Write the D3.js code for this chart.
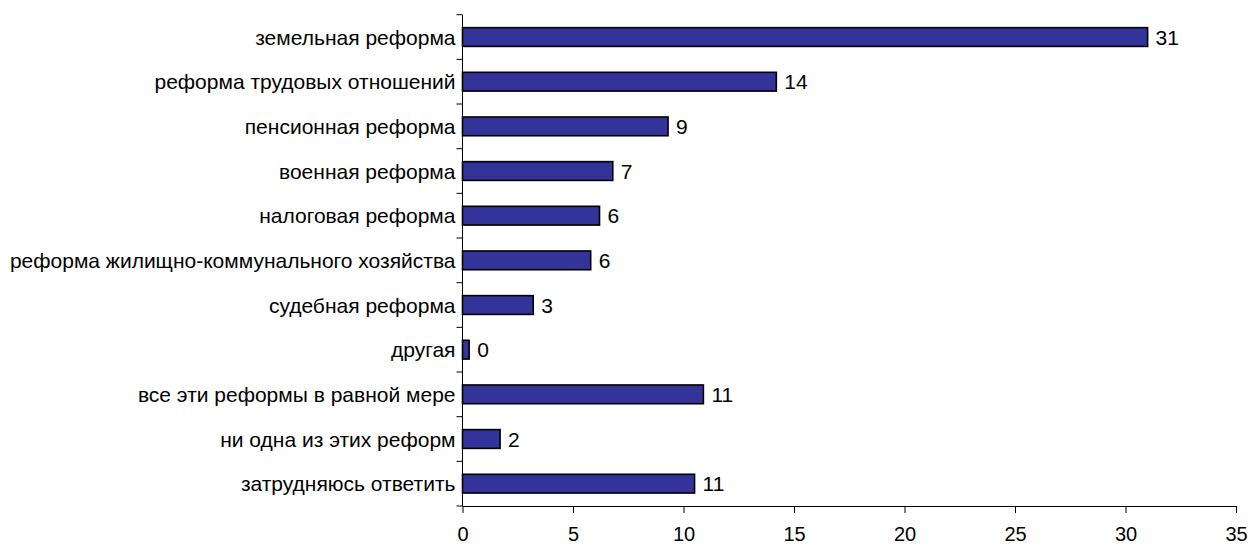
<!DOCTYPE html>
<html><head><meta charset="utf-8">
<script src="https://cdn.jsdelivr.net/npm/d3@7"></script>
<style>body{margin:0;background:#fff}svg{display:block}text{font-family:"Liberation Sans",Arial,sans-serif;fill:#000}</style>
</head><body><svg id="c" width="1250" height="545"></svg>
<script>
const categories = ["земельная реформа","реформа трудовых отношений","пенсионная реформа","военная реформа","налоговая реформа","реформа жилищно-коммунального хозяйства","судебная реформа","другая","все эти реформы в равной мере","ни одна из этих реформ","затрудняюсь ответить"];
const values = [31.0,14.2,9.3,6.8,6.2,5.8,3.2,0.3,10.9,1.7,10.5];
const valueLabels = ["31","14","9","7","6","6","3","0","11","2","11"];
const xTicks = [0,5,10,15,20,25,30,35];

const svg = d3.select("#c");
const L = 462.5, R = 1236, T = 14.7, B = 506;
const x = d3.scaleLinear().domain([0,35]).range([L,R]);
const y = d3.scaleBand().domain(categories).range([T,B]).paddingInner(0.58).paddingOuter(0.29);
const band = d3.scaleBand().domain(categories).range([T,B]);

// bars
svg.append("g").selectAll("rect").data(values).join("rect")
  .attr("x", x(0)).attr("y",(d,i)=>y(categories[i]))
  .attr("width", d=>x(d)-x(0)).attr("height", y.bandwidth())
  .attr("fill","#333399").attr("stroke","#000").attr("stroke-width",1.6);

// value labels
svg.append("g").selectAll("text").data(values).join("text")
  .attr("x", d=>x(d)+8).attr("y",(d,i)=>band(categories[i])+band.bandwidth()/2)
  .attr("dy","0.36em").attr("font-size",21).text((d,i)=>valueLabels[i]);

// y axis line + ticks at band edges
const g = svg.append("g").attr("stroke","#000").attr("stroke-width",1);
g.append("line").attr("x1",L).attr("x2",L).attr("y1",T).attr("y2",B);
const edges = categories.map(c=>band(c)).concat([B]);
g.selectAll(".yt").data(edges).join("line").attr("x1",L-6).attr("x2",L).attr("y1",d=>d).attr("y2",d=>d);

// category labels
svg.append("g").selectAll("text").data(categories).join("text")
  .attr("x", L-7).attr("y", c=>band(c)+band.bandwidth()/2).attr("dy","0.36em")
  .attr("text-anchor","end").attr("font-size",21).text(c=>c);

// x axis
const xa = svg.append("g").attr("transform",`translate(0,${B})`)
  .call(d3.axisBottom(x).tickValues(xTicks).tickSize(7).tickPadding(14).tickFormat(d3.format("d")));
xa.select(".domain").attr("stroke","#000").attr("d",`M${L},0.5H${R}`);
xa.selectAll(".tick line").attr("stroke","#000");
xa.selectAll("text").attr("font-size",20).attr("font-family","Liberation Sans, Arial, sans-serif").attr("fill","#000");
</script></body></html>
